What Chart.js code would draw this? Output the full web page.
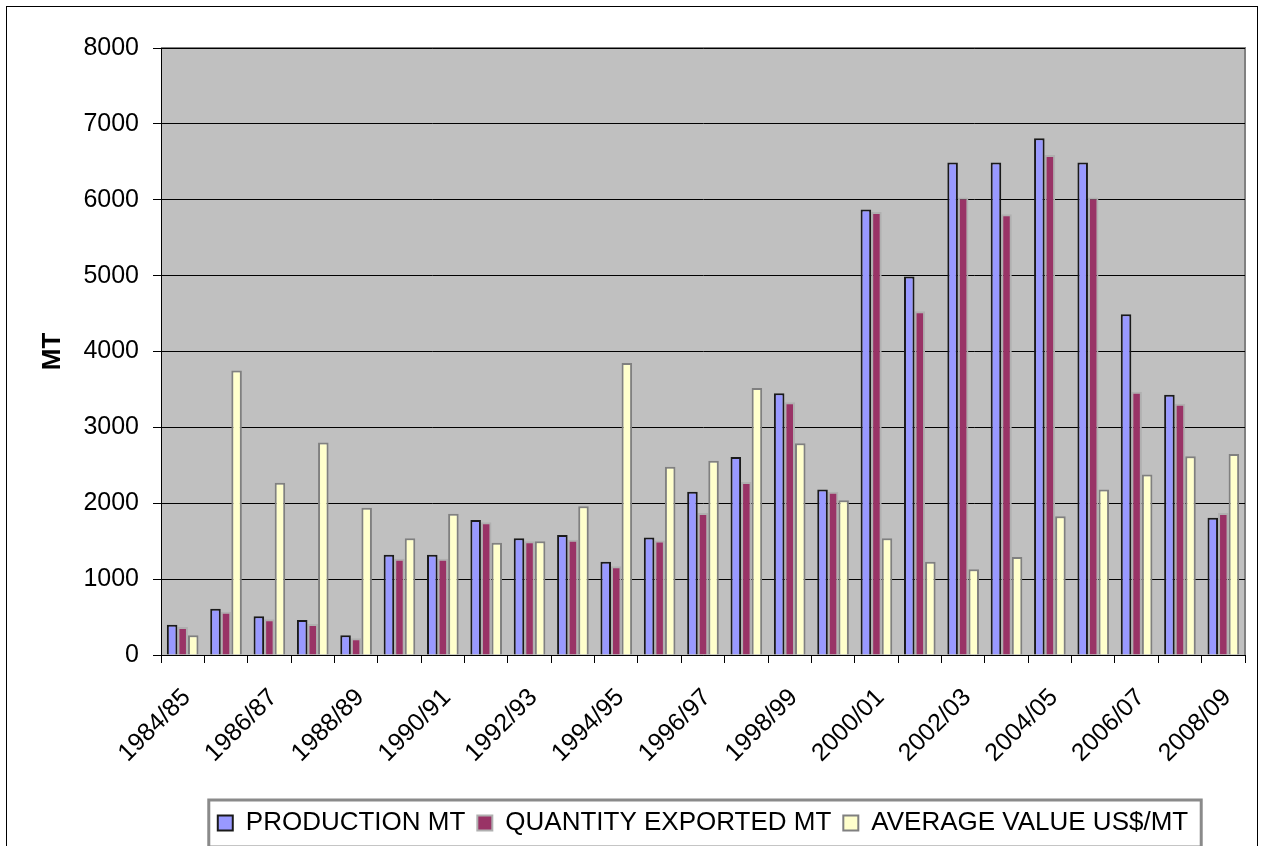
<!DOCTYPE html>
<html>
<head>
<meta charset="utf-8">
<script src="https://cdn.jsdelivr.net/npm/chart.js@4.4.1/dist/chart.umd.min.js"></script>
<style>
  html, body { margin: 0; padding: 0; background: #fff; }
  #wrap { position: relative; width: 1262px; height: 846px; }
  #frame { position: absolute; left: 6px; top: 6px; width: 1252px; height: 846px; border-left: 1px solid #000; border-top: 1px solid #000; border-right: 1px solid #000; box-sizing: border-box; }
  canvas { position: absolute; left: 0; top: 0; }
</style>
</head>
<body>
<div id="wrap">
  <div id="frame"></div>
  <canvas id="grafico" width="1262" height="846"></canvas>
</div>
<script>
// Dados
const anos = ['1984/85', '1985/86', '1986/87', '1987/88', '1988/89', '1989/90', '1990/91', '1991/92',
  '1992/93', '1993/94', '1994/95', '1995/96', '1996/97', '1997/98', '1998/99', '1999/00',
  '2000/01', '2001/02', '2002/03', '2003/04', '2004/05', '2005/06', '2006/07', '2007/08', '2008/09'];

const producao = [400, 610, 510, 460, 260, 1320, 1320, 1780, 1540, 1580, 1230, 1550, 2150, 2610, 3450,
  2180, 5870, 4990, 6490, 6490, 6810, 6490, 4490, 3430, 1810];

const exportado = [370, 570, 470, 410, 220, 1270, 1270, 1750, 1500, 1520, 1170, 1510, 1870, 2280, 3330,
  2150, 5840, 4530, 6030, 5810, 6590, 6030, 3470, 3310, 1870];

const valorMedio = [260, 3750, 2270, 2800, 1940, 1540, 1860, 1480, 1500, 1960, 3850, 2480, 2560, 3520, 2790,
  2040, 1540, 1230, 1130, 1290, 1830, 2180, 2380, 2620, 2650];

const FONTE = "'Liberation Sans', Arial, sans-serif";

// Fundo cinza da área do gráfico + moldura da legenda
const fundoPlugin = {
  id: 'fundo',
  beforeDraw(chart) {
    const { ctx, chartArea: a } = chart;
    ctx.save();
    ctx.fillStyle = '#C0C0C0';
    ctx.fillRect(a.left, a.top, a.right - a.left, a.bottom - a.top);
    ctx.strokeStyle = '#808080';
    ctx.lineWidth = 2;
    ctx.beginPath();
    ctx.moveTo(a.left, a.top);
    ctx.lineTo(a.right, a.top);
    ctx.lineTo(a.right, a.bottom);
    ctx.stroke();
    ctx.restore();
  },
  afterDraw(chart) {
    const caixas = chart.legend.legendHitBoxes;
    if (!caixas || !caixas.length) return;
    let esq = Infinity, dir = -Infinity, topo = Infinity, base = -Infinity;
    caixas.forEach(c => {
      esq = Math.min(esq, c.left);
      dir = Math.max(dir, c.left + c.width);
      topo = Math.min(topo, c.top);
      base = Math.max(base, c.top + c.height);
    });
    const meio = (topo + base) / 2;
    const { ctx } = chart;
    ctx.save();
    ctx.strokeStyle = '#8a8a8a';
    ctx.lineWidth = 3;
    ctx.strokeRect(esq - 9, meio - 23, dir - esq + 22, 47);
    ctx.restore();
  }
};

new Chart(document.getElementById('grafico'), {
  type: 'bar',
  data: {
    labels: anos,
    datasets: [
      {
        label: 'PRODUCTION MT',
        data: producao,
        backgroundColor: '#9999FF',
        borderColor: '#1a1a1a',
        borderWidth: 2
      },
      {
        label: 'QUANTITY EXPORTED MT',
        data: exportado,
        backgroundColor: '#993366',
        borderColor: '#b0b0b0',
        borderWidth: 2
      },
      {
        label: 'AVERAGE VALUE US$/MT',
        data: valorMedio,
        backgroundColor: '#FFFFCC',
        borderColor: '#808080',
        borderWidth: 2
      }
    ]
  },
  options: {
    responsive: false,
    animation: false,
    layout: { padding: { left: 0, top: 48, right: 17, bottom: 0 } },
    datasets: {
      bar: { categoryPercentage: 0.73, barPercentage: 1.0, borderSkipped: 'bottom' }
    },
    scales: {
      x: {
        grid: { display: true, drawOnChartArea: false, color: '#000', tickLength: 8, offset: true },
        border: { color: '#000', width: 1 },
        ticks: {
          autoSkip: false,
          maxRotation: 45,
          minRotation: 45,
          color: '#000',
          font: { family: FONTE, size: 25 },
          padding: 20,
          labelOffset: 4,
          callback: function (v, i) { return i % 2 === 0 ? this.getLabelForValue(v) : ''; }
        },
        afterFit: s => { s.height = 143; s.paddingLeft = 0; s.paddingRight = 0; }
      },
      y: {
        min: 0,
        max: 8000,
        ticks: {
          stepSize: 1000,
          color: '#000',
          font: { family: FONTE, size: 25 },
          padding: 14,
          callback: v => String(v)
        },
        grid: { color: '#000', lineWidth: 1, tickLength: 8 },
        border: { color: '#000', width: 1 },
        title: { display: true, text: 'MT', color: '#000', font: { family: FONTE, size: 26, weight: 'bold' }, padding: { top: 37, bottom: 0 } },
        afterFit: s => { s.width = 161; }
      }
    },
    plugins: {
      legend: {
        position: 'bottom',
        fullSize: false,
        labels: {
          boxWidth: 15,
          boxHeight: 15,
          color: '#000',
          padding: 12,
          font: { family: FONTE, size: 26 }
        }
      },
      tooltip: { enabled: false }
    }
  },
  plugins: [fundoPlugin]
});
</script>
</body>
</html>
